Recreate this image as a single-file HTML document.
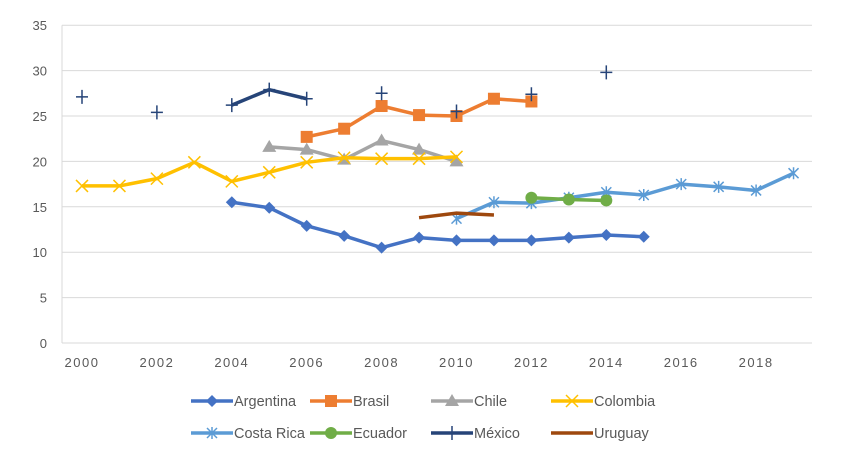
<!DOCTYPE html>
<html><head><meta charset="utf-8"><style>
body{margin:0;background:#fff;font-family:"Liberation Sans",sans-serif}
svg text{fill:#595959;font-size:13px}
svg text.lg{font-size:14.5px}
</style></head><body>
<svg id="c" width="851" height="457"></svg>
<script>
const years=[2000,2001,2002,2003,2004,2005,2006,2007,2008,2009,2010,2011,2012,2013,2014,2015,2016,2017,2018,2019];
const yTicks=[0,5,10,15,20,25,30,35];
const xTicks=[2000,2002,2004,2006,2008,2010,2012,2014,2016,2018];
const argentina=[null,null,null,null,15.5,14.9,12.9,11.8,10.5,11.6,11.3,11.3,11.3,11.6,11.9,11.7,null,null,null,null];
const brasil=[null,null,null,null,null,null,22.7,23.6,26.1,25.1,25.0,26.9,26.6,null,null,null,null,null,null,null];
const chile=[null,null,null,null,null,21.6,21.3,20.2,22.3,21.3,20.0,null,null,null,null,null,null,null,null,null];
const colombia=[17.3,17.3,18.1,19.9,17.8,18.8,19.9,20.4,20.3,20.3,20.5,null,null,null,null,null,null,null,null,null];
const costaRica=[null,null,null,null,null,null,null,null,null,null,13.7,15.5,15.4,16.0,16.6,16.3,17.5,17.2,16.8,18.7];
const ecuador=[null,null,null,null,null,null,null,null,null,null,null,null,16.0,15.8,15.7,null,null,null,null,null];
const mexico=[27.1,null,25.4,null,26.2,27.9,26.9,null,27.5,null,25.5,null,27.4,null,29.8,null,null,null,null,null];
const uruguay=[null,null,null,null,null,null,null,null,null,13.8,14.3,14.1,null,null,null,null,null,null,null,null];
const NS="http://www.w3.org/2000/svg",svg=document.getElementById('c');
const X=y=>82+(y-2000)*37.45, Y=v=>343-v*9.08;
function mk(t,a,p){const e=document.createElementNS(NS,t);for(const k in a)e.setAttribute(k,a[k]);(p||svg).appendChild(e);return e;}
yTicks.forEach(v=>{const l=mk('line',{x1:62,x2:812,y1:Y(v),y2:Y(v),stroke:'#d9d9d9','stroke-width':1});


const t=mk('text',{x:47,y:Y(v)+5,'text-anchor':'end'});t.textContent=v;

});
const ax=mk('line',{x1:62,x2:62,y1:Y(35),y2:Y(0),stroke:'#d9d9d9'});


xTicks.forEach(v=>{const t=mk('text',{x:X(v),y:367,'text-anchor':'middle','letter-spacing':'1.5'});t.textContent=v;

});
function marker(g,type,x,y,c){
 if(type==='diamond')mk('path',{d:`M${x} ${y-6}L${x+6} ${y}L${x} ${y+6}L${x-6} ${y}Z`,fill:c},g);
 else if(type==='square')mk('rect',{x:x-6,y:y-6,width:12,height:12,fill:c},g);
 else if(type==='tri')mk('path',{d:`M${x} ${y-7}L${x+7} ${y+5}L${x-7} ${y+5}Z`,fill:c},g);
 else if(type==='x')mk('path',{d:`M${x-6} ${y-6}L${x+6} ${y+6}M${x+6} ${y-6}L${x-6} ${y+6}`,stroke:c,'stroke-width':1.5},g);
 else if(type==='star')mk('path',{d:`M${x-5} ${y-5}L${x+5} ${y+5}M${x+5} ${y-5}L${x-5} ${y+5}M${x} ${y-6}L${x} ${y+6}`,stroke:c,'stroke-width':1.5},g);
 else if(type==='circle')mk('circle',{cx:x,cy:y,r:6,fill:c},g);
 else if(type==='plus')mk('path',{d:`M${x-6} ${y}L${x+6} ${y}M${x} ${y-7}L${x} ${y+7}`,stroke:c,'stroke-width':1.5},g);
}
const series=[['argentina',argentina,'#4472c4','diamond'],['brasil',brasil,'#ed7d31','square'],['chile',chile,'#a5a5a5','tri'],['colombia',colombia,'#ffc000','x'],['costa-rica',costaRica,'#5b9bd5','star'],['ecuador',ecuador,'#70ad47','circle'],['mexico',mexico,'#264478','plus'],['uruguay',uruguay,'#9e480e',null]];
series.forEach(([n,d,c,m])=>{const g=mk('g',{});


 let seg=[];const flush=()=>{if(seg.length>1)mk('polyline',{points:seg.join(' '),fill:'none',stroke:c,'stroke-width':3.5,'stroke-linejoin':'round'},g);seg=[];};
 d.forEach((v,i)=>{if(v==null)flush();else seg.push(X(years[i])+','+Y(v));});flush();
 if(m)d.forEach((v,i)=>{if(v!=null)marker(g,m,X(years[i]),Y(v),c);});
});
const cols=[191,310,431,551];
series.forEach(([n,d,c,m],i)=>{const x=cols[i%4],y=i<4?401:433;const g=mk('g',{});


 mk('line',{x1:x,x2:x+42,y1:y,y2:y,stroke:c,'stroke-width':3.5},g);
 if(m)marker(g,m,x+21,y,c);
 const t=mk('text',{x:x+43,y:y+5,'class':'lg'},g);t.textContent=['Argentina','Brasil','Chile','Colombia','Costa Rica','Ecuador','México','Uruguay'][i];});
</script>
</body></html>
